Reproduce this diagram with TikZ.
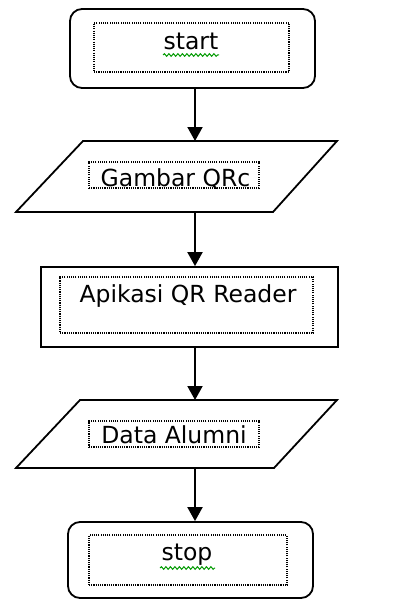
\documentclass[tikz,border=0pt]{standalone}
\usepackage{fontspec}
\setmainfont{DejaVu Sans}
\usetikzlibrary{arrows.meta,decorations.pathmorphing}
\begin{document}
\begin{tikzpicture}[x=1pt,y=-1pt,
  outer/.style={draw=black,line width=1.8pt},
  ghost/.style={draw=none,inner sep=0pt,outer sep=0pt},
  dotbox/.style={draw=black,dash pattern=on 1.1pt off 1.1pt,line width=1.2pt,inner sep=0pt},
  lbl/.style={inner sep=0pt,font=\fontsize{23.5}{27}\selectfont,text=black},
  arr/.style={line width=1.9pt,-{Triangle[width=15pt,length=14pt]}},
  squig/.style={draw=green!60!black,line width=1pt,decorate,decoration={snake,amplitude=1.3pt,segment length=4.5pt}}]
\useasboundingbox (0,0) rectangle (395,599);
\coordinate (ax) at (195,0);
% start
\node[outer,rounded corners=12pt,minimum width=245pt,minimum height=79pt,inner sep=0pt] (start) at (192.5,48.5) {};
\node[dotbox,minimum width=195pt,minimum height=49pt] (startbox) at (191.5,47.5) {};
\node[lbl,anchor=base] (starttxt) at (191,50) {start};
\draw[squig] (163,55) -- (219,55);
% gambar
\node[ghost,minimum width=321pt,minimum height=71pt] (gam) at (176.5,176.5) {};
\draw[outer,line join=miter] (83,141) -- (337,141) -- (273,212) -- (16,212) -- cycle;
\node[dotbox,minimum width=170pt,minimum height=26pt] (gambox) at (174,175) {};
\node[lbl,anchor=base] (gamtxt) at (175.5,186) {Gambar QRc};
% apikasi
\node[outer,minimum width=297pt,minimum height=80pt,inner sep=0pt] (app) at (189.5,307) {};
\node[dotbox,minimum width=253pt,minimum height=56pt] (appbox) at (186.5,305) {};
\node[lbl,anchor=base] (apptxt) at (188,302) {Apikasi QR Reader};
% data alumni
\node[ghost,minimum width=321pt,minimum height=68pt] (data) at (176.5,434) {};
\draw[outer,line join=miter] (80,400) -- (337,400) -- (274,468) -- (16,468) -- cycle;
\node[dotbox,minimum width=170pt,minimum height=26pt] (databox) at (174,434) {};
\node[lbl,anchor=base] (datatxt) at (174,443) {Data Alumni};
% stop
\node[outer,rounded corners=12pt,minimum width=245pt,minimum height=76pt,inner sep=0pt] (stop) at (190.5,560) {};
\node[dotbox,minimum width=198pt,minimum height=50pt] (stopbox) at (188,560) {};
\node[lbl,anchor=base] (stoptxt) at (187,560) {stop};
\draw[squig] (160,568) -- (215,568);
% arrows
\draw[arr] (start.south -| ax) -- (gam.north -| ax);
\draw[arr] (gam.south -| ax) -- (app.north -| ax);
\draw[arr] (app.south -| ax) -- (data.north -| ax);
\draw[arr] (data.south -| ax) -- (stop.north -| ax);
\end{tikzpicture}
\end{document}
